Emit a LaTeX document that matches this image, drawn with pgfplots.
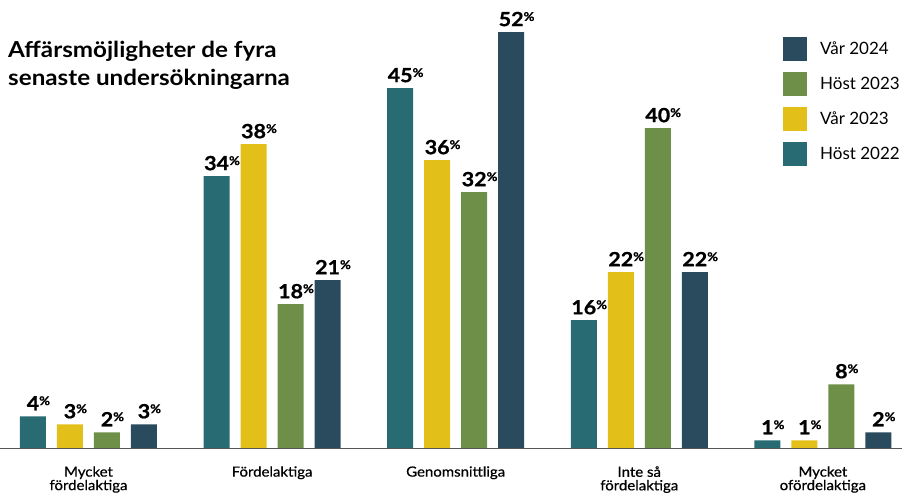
\documentclass[border=0pt]{standalone}
\usepackage{pgfplots}
\pgfplotsset{compat=1.18}
\usepackage{fontspec}
\setmainfont{Lato}
\newfontfamily\titlefont[FakeStretch=1.1]{Lato}
\newfontfamily\catfont[FakeStretch=1.07, FakeBold=0.6]{Lato}
\newfontfamily\numfont[FakeStretch=1.1, FakeBold=0.8]{Lato}
\definecolor{cHA}{HTML}{286B73}
\definecolor{cVA}{HTML}{E3BF1A}
\definecolor{cHB}{HTML}{6E8F48}
\definecolor{cVB}{HTML}{2A4A5D}
\definecolor{cBase}{HTML}{555555}
\begin{document}
\begin{tikzpicture}
\begin{axis}[
  width=902pt, height=493pt, scale only axis,
  xmin=-0.482, xmax=4.431, ymin=-5.6, ymax=56,
  axis line style={draw=none},
  ytick=\empty,
  xtick={0,1,2,3,4},
  xticklabels={{Mycket\\fördelaktiga},{Fördelaktiga},{Genomsnittliga},{Inte så\\fördelaktiga},{Mycket\\ofördelaktiga}},
  major tick length=0pt,
  xticklabel style={align=center, font=\catfont\fontsize{14}{13.5}\selectfont, inner sep=0pt, anchor=north, yshift=27pt},
  /pgf/number format/assume math mode=true,
  ybar=11pt, bar width=26pt,
  nodes near coords={\textbf{\pgfmathprintnumber{\pgfplotspointmeta}}\rlap{\raisebox{5.2pt}{\fontsize{12}{12}\selectfont\bfseries\%}}},
  nodes near coords style={font=\numfont\fontsize{19.5}{20}\selectfont, anchor=base, inner sep=0pt, yshift=6pt, text=black},
  legend image code/.code={\fill[#1] (0pt,-12pt) rectangle (24pt,12pt);},
  legend style={draw=none, fill=none, at={(axis description cs:0.868,0.926)}, anchor=north west,
    inner sep=0pt, font=\fontsize{17}{17}\selectfont, row sep=11pt, cells={anchor=west},
    nodes={inner sep=0pt},
    /tikz/every odd column/.append style={column sep=13pt}},
  reverse legend,
]
\addplot[fill=cHA, draw=none] coordinates {(0,4) (1,34) (2,45) (3,16) (4,1)};
\addplot[fill=cVA, draw=none] coordinates {(0,3) (1,38) (2,36) (3,22) (4,1)};
\addplot[fill=cHB, draw=none] coordinates {(0,2) (1,18) (2,32) (3,40) (4,8)};
\addplot[fill=cVB, draw=none] coordinates {(0,3) (1,21) (2,52) (3,22) (4,2)};
\legend{Höst 2022, Vår 2023, Höst 2023, Vår 2024}
\draw[cBase, line width=1.3pt] (axis cs:-0.482,0) -- (axis cs:4.431,0);
\node[anchor=base west, inner sep=0pt, font=\titlefont\fontsize{22}{22}\selectfont\bfseries] at (axis description cs:0.00887,0.883) {Affärsmöjligheter de fyra};
\node[anchor=base west, inner sep=0pt, font=\titlefont\fontsize{22}{22}\selectfont\bfseries] at (axis description cs:0.00887,0.8266) {senaste undersökningarna};
\end{axis}
\end{tikzpicture}
\end{document}
